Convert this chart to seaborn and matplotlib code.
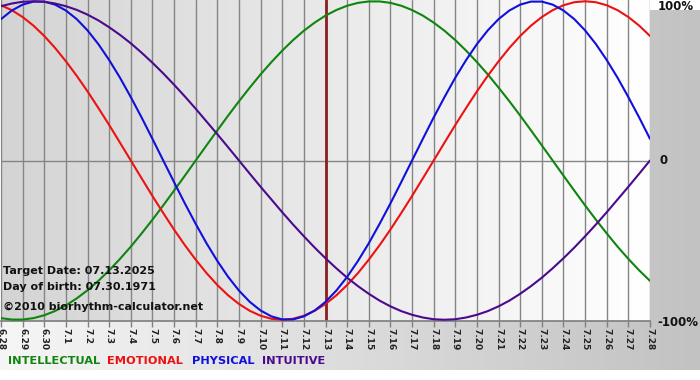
import numpy as np
import pandas as pd
import matplotlib
matplotlib.use("Agg")
import matplotlib.pyplot as plt
from matplotlib.colors import LinearSegmentedColormap
import seaborn as sns

# ---- data (one value every half day) ----
dates = ["6.28", "6.29", "6.30", "7.1", "7.2", "7.3", "7.4", "7.5", "7.6", "7.7", "7.8",
         "7.9", "7.10", "7.11", "7.12", "7.13", "7.14", "7.15", "7.16", "7.17", "7.18",
         "7.19", "7.20", "7.21", "7.22", "7.23", "7.24", "7.25", "7.26", "7.27", "7.28"]
physical = [0.888, 0.942, 0.979, 0.998, 0.998, 0.979, 0.942, 0.888, 0.817, 0.731, 0.631,
            0.520, 0.398, 0.270, 0.136, 0.000, -0.136, -0.270, -0.398, -0.520, -0.631,
            -0.731, -0.817, -0.888, -0.942, -0.979, -0.998, -0.998, -0.979, -0.942, -0.888,
            -0.817, -0.731, -0.631, -0.520, -0.398, -0.270, -0.136, 0.000, 0.136, 0.270,
            0.398, 0.520, 0.631, 0.731, 0.817, 0.888, 0.942, 0.979, 0.998, 0.998, 0.979,
            0.942, 0.888, 0.817, 0.731, 0.631, 0.520, 0.398, 0.270, 0.136]
emotional = [0.975, 0.944, 0.901, 0.847, 0.782, 0.707, 0.623, 0.532, 0.434, 0.330, 0.223,
             0.112, 0.000, -0.112, -0.223, -0.330, -0.434, -0.532, -0.623, -0.707, -0.782,
             -0.847, -0.901, -0.944, -0.975, -0.994, -1.000, -0.994, -0.975, -0.944, -0.901,
             -0.847, -0.782, -0.707, -0.623, -0.532, -0.434, -0.330, -0.223, -0.112, 0.000,
             0.112, 0.223, 0.330, 0.434, 0.532, 0.623, 0.707, 0.782, 0.847, 0.901, 0.944,
             0.975, 0.994, 1.000, 0.994, 0.975, 0.944, 0.901, 0.847, 0.782]
intellectual = [-0.990, -0.999, -0.999, -0.990, -0.972, -0.945, -0.910, -0.866, -0.815,
                -0.756, -0.690, -0.618, -0.541, -0.458, -0.372, -0.282, -0.189, -0.095,
                0.000, 0.095, 0.189, 0.282, 0.372, 0.458, 0.541, 0.618, 0.690, 0.756, 0.815,
                0.866, 0.910, 0.945, 0.972, 0.990, 0.999, 0.999, 0.990, 0.972, 0.945, 0.910,
                0.866, 0.815, 0.756, 0.690, 0.618, 0.541, 0.458, 0.372, 0.282, 0.189, 0.095,
                0.000, -0.095, -0.189, -0.282, -0.372, -0.458, -0.541, -0.618, -0.690, -0.756]
intuitive = [0.969, 0.986, 0.997, 1.000, 0.997, 0.986, 0.969, 0.946, 0.916, 0.880, 0.837,
             0.789, 0.736, 0.677, 0.614, 0.547, 0.476, 0.402, 0.325, 0.245, 0.165, 0.083,
             0.000, -0.083, -0.165, -0.245, -0.325, -0.402, -0.476, -0.547, -0.614, -0.677,
             -0.736, -0.789, -0.837, -0.880, -0.916, -0.946, -0.969, -0.986, -0.997, -1.000,
             -0.997, -0.986, -0.969, -0.946, -0.916, -0.880, -0.837, -0.789, -0.736, -0.677,
             -0.614, -0.547, -0.476, -0.402, -0.325, -0.245, -0.165, -0.083, 0.000]
series_names = ["INTELLECTUAL", "EMOTIONAL", "PHYSICAL", "INTUITIVE"]
target_label = "7.13"
info_lines = ["Target Date: 07.13.2025", "Day of birth: 07.30.1971", "\u00a92010 biorhythm-calculator.net"]
y_labels = ["100%", "0", "-100%"]

colors = {"INTELLECTUAL": "#0f850f", "EMOTIONAL": "#ee1111", "PHYSICAL": "#1010dd", "INTUITIVE": "#4b0a8c"}

n = len(dates)
rows = []
for name, vals in zip(series_names, [intellectual, emotional, physical, intuitive]):
    for i, v in enumerate(vals):
        rows.append({"day": i / 2, "value": v, "series": name})
df = pd.DataFrame(rows)

sns.set_theme(style="white")
plt.rcParams['font.family'] = ['DejaVu Sans']

W, H = 700, 380
fig = plt.figure(figsize=(W / 100, H / 100), dpi=100)
fig.patch.set_facecolor("white")

# outer gradient panel
bg = fig.add_axes([0, 10 / H, 1, 360 / H])
bg.set_axis_off()
cm_out = LinearSegmentedColormap.from_list("o", ["#f6f6f6", "#c2c2c2"])
bg.imshow(np.linspace(0, 1, 256)[None, :], aspect="auto", cmap=cm_out, extent=[0, 1, 0, 1])
bg.set_xlim(0, 1); bg.set_ylim(0, 1)

# main axes
ax = fig.add_axes([1 / W, 59 / H, 649 / W, 321 / H])
ax.set_zorder(2)
cm_in = LinearSegmentedColormap.from_list("i", ["#d4d4d4", "#ffffff"])
ylim = (-1.008, 1.008)
ax.imshow(np.linspace(0, 1, 256)[None, :], aspect="auto", cmap=cm_in,
          extent=[0, n - 1, ylim[0], ylim[1]], zorder=0)

for i in range(n):
    ax.axvline(i, color="#858585", lw=1.0, zorder=1)
ax.axhline(0, color="#858585", lw=1.0, zorder=1)
ax.axvline(dates.index(target_label), color="#8a2020", lw=2.0, zorder=1.5)

sns.lineplot(data=df, x="day", y="value", hue="series", hue_order=series_names,
             palette=colors, linewidth=1.5, legend=False, ax=ax, zorder=3)

ax.set_xlim(0, n - 1)
ax.set_ylim(*ylim)
ax.set_xlabel(""); ax.set_ylabel("")
ax.set_xticks(range(n))
ax.set_xticklabels(dates, rotation=270, fontsize=6.5, fontweight="bold", color="#222222")
ax.tick_params(axis="x", bottom=True, length=4, width=1, color="#808080", pad=1)
ax.set_yticks([])
for s in ax.spines.values():
    s.set_visible(False)
ax.spines["bottom"].set_visible(True)
ax.spines["bottom"].set_color("#808080")

# info text
for txt, yp in zip(info_lines, [271, 287, 307]):
    fig.text(3 / W, 1 - yp / H, txt, fontsize=8, fontweight="bold", color="#111111",
             va="center", ha="left", zorder=5)

# right-side y labels
for txt, xp, yp in zip(y_labels, [658, 659, 657], [7, 161, 322]):
    fig.text(xp / W, 1 - yp / H, txt, fontsize=8.5, fontweight="bold", color="#111111",
             va="center", ha="left")

# legend row
xpos = [8, 107, 192, 262]
for name, xp in zip(series_names, xpos):
    fig.text(xp / W, 1 - 361 / H, name, fontsize=8.2, fontweight="bold",
             color=colors[name], va="center", ha="left")

fig.savefig("out.png", dpi=100, facecolor=fig.get_facecolor())
